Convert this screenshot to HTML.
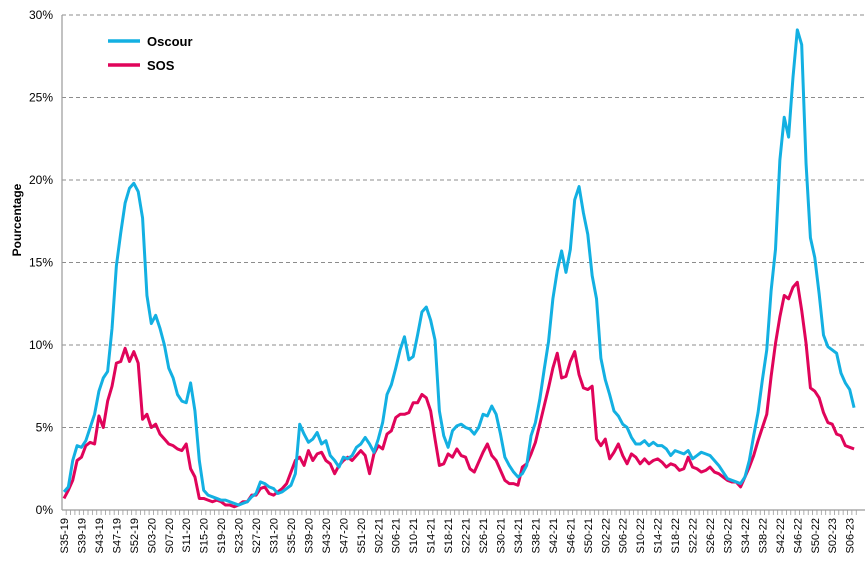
<!DOCTYPE html>
<html><head><meta charset="utf-8"><style>
body{margin:0;background:#fff;}
svg{display:block;font-family:"Liberation Sans",sans-serif;}
</style></head><body>
<svg id="chart" width="867" height="572" viewBox="0 0 867 572" xmlns="http://www.w3.org/2000/svg">
<g id="grid"></g>
<g id="yticks"></g>
<g id="xticks"></g>
<line x1="62" y1="15" x2="62" y2="510" stroke="#9a9a9a" stroke-width="1.2"/>
<line x1="62" y1="510" x2="865" y2="510" stroke="#9a9a9a" stroke-width="1.2"/>
<g id="series"></g>
<text transform="translate(21,220) rotate(-90)" text-anchor="middle" font-size="12" font-weight="bold">Pourcentage</text>
<g>
<g><line x1="108" y1="41" x2="140" y2="41" stroke="#13b0e2" stroke-width="3.5"/><text x="147" y="46" font-size="13" font-weight="bold">Oscour</text></g>
<g><line x1="108" y1="65" x2="140" y2="65" stroke="#e0045a" stroke-width="3.5"/><text x="147" y="70" font-size="13" font-weight="bold">SOS</text></g>
</g>
</svg>
<script>
const weekLabels = ["S35-19","S39-19","S43-19","S47-19","S52-19","S03-20","S07-20","S11-20","S15-20","S19-20","S23-20","S27-20","S31-20","S35-20","S39-20","S43-20","S47-20","S51-20","S02-21","S06-21","S10-21","S14-21","S18-21","S22-21","S26-21","S30-21","S34-21","S38-21","S42-21","S46-21","S50-21","S02-22","S06-22","S10-22","S14-22","S18-22","S22-22","S26-22","S30-22","S34-22","S38-22","S42-22","S46-22","S50-22","S02-23","S06-23"];
const yTicks = [0,5,10,15,20,25,30];
const oscour = [1.1,1.4,3.0,3.9,3.8,4.2,5.0,5.8,7.2,8.0,8.4,11.0,14.8,16.8,18.6,19.5,19.8,19.3,17.7,13.0,11.3,11.8,11.0,10.0,8.6,8.0,7.0,6.6,6.5,7.7,
6.0,3.0,1.2,0.9,0.8,0.7,0.6,0.6,0.5,0.4,0.3,0.4,0.5,0.8,1.0,1.7,1.6,1.4,1.3,1.0,1.1,1.3,1.5,2.2,5.2,4.6,4.1,4.3,4.7,4.0,
4.2,3.3,3.0,2.6,3.2,3.1,3.3,3.8,4.0,4.4,4.0,3.5,4.3,5.3,7.0,7.6,8.6,9.7,10.5,9.1,9.3,10.6,12.0,12.3,11.5,10.3,6.0,4.5,3.8,4.8,
5.1,5.2,5.0,4.9,4.6,5.0,5.8,5.7,6.3,5.8,4.6,3.2,2.7,2.3,2.0,2.2,2.7,4.5,5.3,6.7,8.5,10.2,12.8,14.5,15.7,14.4,15.8,18.8,19.6,18.0,
16.7,14.2,12.8,9.2,7.9,7.0,6.0,5.7,5.2,5.0,
4.4,4.0,4.0,4.2,3.9,4.1,3.9,3.9,3.7,3.3,3.6,3.5,3.4,3.6,3.1,3.3,3.5,3.4,3.3,3.0,2.7,2.3,1.9,1.8,1.7,1.6,2.0,3.0,
4.5,5.9,7.9,9.7,13.3,15.8,21.2,23.8,22.6,26.2,29.1,28.2,21,16.5,15.3,13.1,10.6,9.9,9.7,9.5,8.3,7.7,7.3,6.2];
const sos = [0.7,1.2,1.8,3.0,3.2,3.9,4.1,4.0,5.7,5.0,6.6,7.5,8.9,9.0,9.8,9.0,9.6,8.9,5.5,5.8,5.0,5.2,4.6,4.3,4.0,3.9,3.7,3.6,4.0,2.5,
2.0,0.7,0.7,0.6,0.5,0.6,0.5,0.3,0.3,0.2,0.3,0.5,0.5,0.9,0.9,1.3,1.4,1.0,0.9,1.1,1.3,1.6,2.3,3.0,3.2,2.7,3.6,3.0,3.4,3.5,
3.0,2.8,2.2,2.7,3.0,3.2,3.0,3.3,3.6,3.3,2.2,3.4,3.9,3.7,4.6,4.8,5.6,5.8,5.8,5.9,6.5,6.5,7.0,6.8,6.0,4.3,2.7,2.8,3.4,3.2,
3.7,3.3,3.2,2.5,2.3,2.9,3.5,4.0,3.3,3.0,2.4,1.8,1.6,1.6,1.5,2.6,2.8,3.4,4.1,5.2,6.3,7.4,8.6,9.5,8.0,8.1,9.0,9.6,8.2,7.4,
7.3,7.5,4.3,3.9,4.3,3.1,3.5,4.0,3.3,2.8,
3.4,3.2,2.8,3.1,2.8,3.0,3.1,2.9,2.6,2.8,2.7,2.4,2.5,3.2,2.6,2.5,2.3,2.4,2.6,2.3,2.2,2.0,1.8,1.7,1.7,1.4,2.0,2.6,3.3,4.2,
5.0,5.8,8.1,10.1,11.7,13.0,12.8,13.5,13.8,12.1,10.1,7.4,7.2,6.8,5.9,5.3,5.2,4.6,4.5,3.9,3.8,3.7];

const NS = "http://www.w3.org/2000/svg";
const x = i => 64 + i * 4.365;
const y = v => 510 - v * 16.5;
const LABEL_STEP = 4;

const grid = document.getElementById('grid');
const yt = document.getElementById('yticks');
yTicks.forEach(t => {
  if (t > 0) {
    const l = document.createElementNS(NS, 'line');
    
    
    l.setAttribute('x1', 62); l.setAttribute('x2', 865);
    l.setAttribute('y1', y(t)); l.setAttribute('y2', y(t));
    l.setAttribute('stroke', '#8c8c8c'); l.setAttribute('stroke-dasharray', '4,3');
    grid.appendChild(l);
  }
  const tx = document.createElementNS(NS, 'text');
  
  
  tx.setAttribute('x', 53); tx.setAttribute('y', y(t) + 4);
  tx.setAttribute('text-anchor', 'end'); tx.setAttribute('font-size', '12');
  tx.textContent = t + '%';
  yt.appendChild(tx);
});

const xt = document.getElementById('xticks');
for (let i = 0; i < oscour.length; i++) {
  const tk = document.createElementNS(NS, 'line');
  
  
  tk.setAttribute('x1', x(i) + 2.18); tk.setAttribute('x2', x(i) + 2.18);
  tk.setAttribute('y1', 510); tk.setAttribute('y2', 515);
  tk.setAttribute('stroke', '#9a9a9a'); tk.setAttribute('stroke-width', '0.8');
  xt.appendChild(tk);
}
weekLabels.forEach((lab, k) => {
  const px = x(k * LABEL_STEP);
  const t = document.createElementNS(NS, 'text');
  
  
  t.setAttribute('transform', 'translate(' + (px + 4) + ',518) rotate(-90)');
  t.setAttribute('text-anchor', 'end'); t.setAttribute('font-size', '11');
  t.textContent = lab;
  xt.appendChild(t);
});

function drawSeries(vals, color, name) {
  const p = document.createElementNS(NS, 'polyline');
  
  
  p.setAttribute('points', vals.map((v, i) => x(i).toFixed(2) + ',' + y(v).toFixed(2)).join(' '));
  p.setAttribute('fill', 'none'); p.setAttribute('stroke', color);
  p.setAttribute('stroke-width', '3'); p.setAttribute('stroke-linejoin', 'round');
  document.getElementById('series').appendChild(p);
}
drawSeries(sos, '#e0045a', 'sos-line');
drawSeries(oscour, '#13b0e2', 'oscour-line');
</script>
</body></html>
